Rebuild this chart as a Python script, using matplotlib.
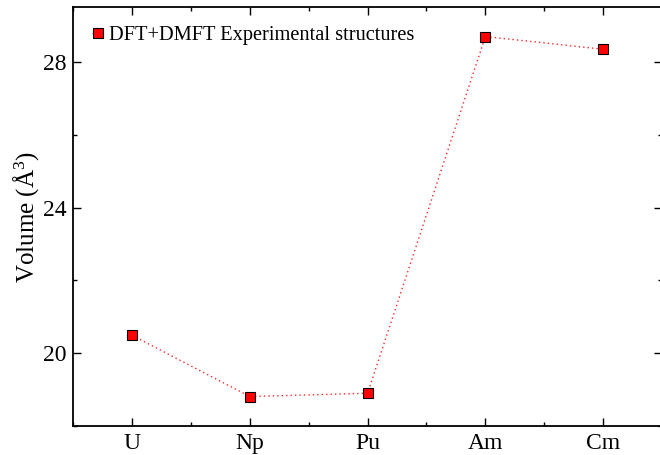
import matplotlib
matplotlib.use("Agg")
import matplotlib.pyplot as plt
from matplotlib.ticker import MultipleLocator, FixedLocator

elements = ["U", "Np", "Pu", "Am", "Cm"]
volume = [20.49, 18.81, 18.90, 28.70, 28.35]
y_ticks = [20, 24, 28]
series_label = "DFT+DMFT Experimental structures"

plt.rcParams["font.family"] = ["Liberation Serif", "DejaVu Serif"]
plt.rcParams["mathtext.fontset"] = "custom"
plt.rcParams["mathtext.rm"] = "Liberation Serif"
plt.rcParams["mathtext.it"] = "Liberation Serif:italic"

fig = plt.figure(figsize=(6.6, 4.55), dpi=100)
ax = fig.add_axes([0.111, 0.0637, 0.892, 0.920])

x = list(range(len(elements)))
ax.plot(x, volume, color=(1, 0, 0, 0.85), linestyle=(0, (1, 2.2)), linewidth=1.0,
        marker="s", markersize=6.5, markerfacecolor="red", markeredgecolor="black",
        markeredgewidth=0.8, label=series_label)

ax.set_xlim(-0.5, len(elements) - 0.5)
ax.set_ylim(18, 29.5)
ax.set_xticks(x)
ax.set_xticklabels(elements)
ax.xaxis.set_minor_locator(FixedLocator([i + 0.5 for i in range(-1, len(elements))]))
ax.set_yticks(y_ticks)
ax.yaxis.set_minor_locator(MultipleLocator(2))

ax.tick_params(which="both", direction="in", top=True, right=True, width=1.0)
ax.tick_params(which="major", length=6, labelsize=17, pad=5)
ax.tick_params(which="minor", length=3)
for sp in ax.spines.values():
    sp.set_linewidth(1.3)

ax.set_ylabel("Volume (Å$^3$)", fontsize=18, labelpad=1)

ax.legend(loc="upper left", frameon=False, fontsize=14.7, handlelength=0.6,
          handletextpad=0.25, borderaxespad=0.5, numpoints=1)

fig.savefig("out.png", dpi=100)
